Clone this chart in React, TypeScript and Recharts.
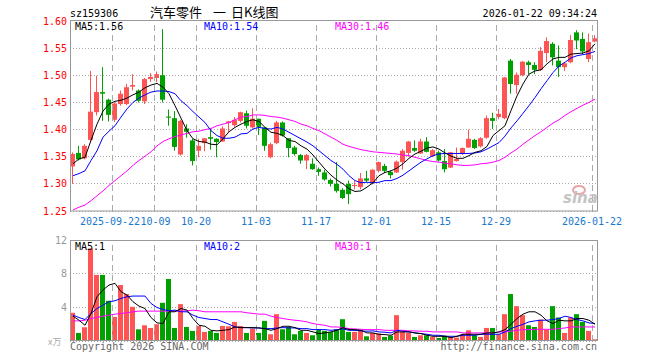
import React from 'react';
import { ComposedChart, Bar, Line, XAxis, YAxis, CartesianGrid, ReferenceLine } from 'recharts';

const dates = [
  '2025-09-11', '2025-09-12', '2025-09-15', '2025-09-16', '2025-09-17', '2025-09-18', '2025-09-19',
  '2025-09-22', '2025-09-23', '2025-09-24', '2025-09-25', '2025-09-26', '2025-09-29', '2025-09-30',
  '2025-10-09', '2025-10-10', '2025-10-13', '2025-10-14', '2025-10-15', '2025-10-16', '2025-10-17',
  '2025-10-20', '2025-10-21', '2025-10-22', '2025-10-23', '2025-10-24', '2025-10-27', '2025-10-28',
  '2025-10-29', '2025-10-30', '2025-10-31', '2025-11-03', '2025-11-04', '2025-11-05', '2025-11-06',
  '2025-11-07', '2025-11-10', '2025-11-11', '2025-11-12', '2025-11-13', '2025-11-14', '2025-11-17',
  '2025-11-18', '2025-11-19', '2025-11-20', '2025-11-21', '2025-11-24', '2025-11-25', '2025-11-26',
  '2025-11-27', '2025-11-28', '2025-12-01', '2025-12-02', '2025-12-03', '2025-12-04', '2025-12-05',
  '2025-12-08', '2025-12-09', '2025-12-10', '2025-12-11', '2025-12-12', '2025-12-15', '2025-12-16',
  '2025-12-17', '2025-12-18', '2025-12-19', '2025-12-22', '2025-12-23', '2025-12-24', '2025-12-25',
  '2025-12-26', '2025-12-29', '2025-12-30', '2025-12-31', '2026-01-05', '2026-01-06', '2026-01-07',
  '2026-01-08', '2026-01-09', '2026-01-12', '2026-01-13', '2026-01-14', '2026-01-15', '2026-01-16',
  '2026-01-19', '2026-01-20', '2026-01-21', '2026-01-22',
];

const opens = [
  1.332, 1.357, 1.347, 1.381, 1.432, 1.469, 1.455, 1.418, 1.447, 1.447, 1.479, 1.472, 1.452, 1.493, 1.495, 1.500,
  1.424, 1.421, 1.354, 1.402, 1.380, 1.361, 1.375, 1.386, 1.383, 1.378, 1.412, 1.408, 1.416, 1.430, 1.404, 1.420,
  1.404, 1.349, 1.375, 1.413, 1.384, 1.367, 1.353, 1.343, 1.337, 1.327, 1.321, 1.307, 1.300, 1.289, 1.300, 1.296,
  1.294, 1.310, 1.301, 1.324, 1.333, 1.322, 1.321, 1.340, 1.357, 1.366, 1.356, 1.378, 1.351, 1.358, 1.342, 1.330,
  1.342, 1.355, 1.367, 1.381, 1.369, 1.385, 1.421, 1.423, 1.421, 1.527, 1.482, 1.500, 1.524, 1.519, 1.510, 1.541,
  1.558, 1.527, 1.515, 1.524, 1.579, 1.567, 1.530, 1.562,
];
const closes = [
  1.355, 1.345, 1.370, 1.433, 1.469, 1.466, 1.427, 1.448, 1.466, 1.478, 1.482, 1.453, 1.493, 1.497, 1.502, 1.455,
  1.422, 1.368, 1.416, 1.396, 1.342, 1.370, 1.384, 1.383, 1.377, 1.402, 1.415, 1.418, 1.432, 1.407, 1.420, 1.404,
  1.370, 1.373, 1.413, 1.389, 1.366, 1.355, 1.343, 1.353, 1.327, 1.322, 1.308, 1.300, 1.287, 1.274, 1.281, 1.298,
  1.310, 1.306, 1.326, 1.340, 1.324, 1.316, 1.341, 1.361, 1.378, 1.361, 1.378, 1.359, 1.362, 1.343, 1.327, 1.358,
  1.346, 1.366, 1.383, 1.366, 1.384, 1.421, 1.416, 1.429, 1.496, 1.484, 1.501, 1.525, 1.519, 1.510, 1.545, 1.563,
  1.533, 1.515, 1.522, 1.565, 1.564, 1.544, 1.561, 1.568,
];
const highs = [
  1.358, 1.370, 1.373, 1.508, 1.499, 1.515, 1.457, 1.450, 1.472, 1.484, 1.502, 1.474, 1.495, 1.504, 1.507, 1.585,
  1.437, 1.434, 1.418, 1.410, 1.383, 1.383, 1.384, 1.401, 1.384, 1.406, 1.416, 1.423, 1.433, 1.435, 1.439, 1.420,
  1.404, 1.376, 1.416, 1.415, 1.384, 1.370, 1.355, 1.355, 1.347, 1.330, 1.326, 1.310, 1.340, 1.292, 1.306, 1.305,
  1.320, 1.324, 1.327, 1.341, 1.337, 1.324, 1.343, 1.364, 1.379, 1.380, 1.383, 1.386, 1.364, 1.361, 1.364, 1.359,
  1.367, 1.367, 1.400, 1.383, 1.386, 1.426, 1.431, 1.438, 1.497, 1.530, 1.505, 1.526, 1.527, 1.524, 1.552, 1.570,
  1.561, 1.555, 1.524, 1.574, 1.583, 1.579, 1.577, 1.574,
];
const lows = [
  1.300, 1.343, 1.345, 1.377, 1.426, 1.416, 1.415, 1.414, 1.444, 1.445, 1.472, 1.450, 1.447, 1.488, 1.487, 1.450,
  1.407, 1.361, 1.352, 1.385, 1.334, 1.349, 1.360, 1.363, 1.349, 1.377, 1.395, 1.405, 1.413, 1.402, 1.402, 1.390,
  1.361, 1.347, 1.373, 1.387, 1.349, 1.352, 1.337, 1.327, 1.326, 1.315, 1.306, 1.295, 1.284, 1.272, 1.263, 1.290,
  1.290, 1.303, 1.299, 1.321, 1.320, 1.310, 1.320, 1.326, 1.350, 1.359, 1.355, 1.358, 1.349, 1.341, 1.321, 1.329,
  1.341, 1.353, 1.366, 1.364, 1.367, 1.383, 1.401, 1.419, 1.419, 1.466, 1.466, 1.498, 1.502, 1.502, 1.508, 1.524,
  1.518, 1.497, 1.508, 1.522, 1.548, 1.539, 1.524, 1.561,
];

const ma5 = [
  1.337, 1.346, 1.349, 1.380, 1.410, 1.434, 1.447, 1.452, 1.454, 1.458, 1.464, 1.469, 1.477, 1.482, 1.485, 1.478,
  1.466, 1.444, 1.421, 1.398, 1.383, 1.378, 1.377, 1.373, 1.372, 1.383, 1.396, 1.404, 1.410, 1.415, 1.418, 1.415,
  1.404, 1.395, 1.393, 1.389, 1.380, 1.378, 1.370, 1.364, 1.353, 1.340, 1.327, 1.316, 1.307, 1.300, 1.291, 1.286,
  1.287, 1.294, 1.302, 1.315, 1.321, 1.324, 1.329, 1.337, 1.347, 1.355, 1.360, 1.366, 1.368, 1.364, 1.357, 1.351,
  1.347, 1.347, 1.352, 1.358, 1.361, 1.369, 1.389, 1.398, 1.407, 1.435, 1.462, 1.484, 1.502, 1.508, 1.510, 1.521,
  1.530, 1.533, 1.533, 1.539, 1.540, 1.541, 1.545, 1.558,
];
const ma10 = [
  1.315, 1.319, 1.324, 1.343, 1.361, 1.386, 1.397, 1.407, 1.423, 1.438, 1.450, 1.458, 1.464, 1.469, 1.471, 1.471,
  1.470, 1.466, 1.453, 1.444, 1.433, 1.423, 1.413, 1.398, 1.389, 1.384, 1.384, 1.386, 1.392, 1.393, 1.401, 1.404,
  1.402, 1.401, 1.404, 1.401, 1.395, 1.389, 1.383, 1.377, 1.370, 1.361, 1.352, 1.343, 1.336, 1.327, 1.315, 1.306,
  1.302, 1.303, 1.302, 1.303, 1.306, 1.306, 1.310, 1.316, 1.324, 1.332, 1.340, 1.346, 1.352, 1.355, 1.356, 1.356,
  1.356, 1.356, 1.356, 1.357, 1.359, 1.364, 1.370, 1.376, 1.388, 1.403, 1.416, 1.430, 1.444, 1.459, 1.475, 1.490,
  1.505, 1.517, 1.524, 1.532, 1.536, 1.538, 1.540, 1.544,
];
const ma30 = [
  1.252, 1.257, 1.261, 1.269, 1.278, 1.287, 1.297, 1.306, 1.315, 1.324, 1.334, 1.343, 1.351, 1.359, 1.370, 1.378,
  1.383, 1.387, 1.390, 1.393, 1.396, 1.397, 1.400, 1.402, 1.407, 1.410, 1.413, 1.418, 1.423, 1.424, 1.427, 1.427,
  1.426, 1.424, 1.423, 1.421, 1.418, 1.415, 1.410, 1.407, 1.402, 1.398, 1.392, 1.386, 1.380, 1.373, 1.369, 1.366,
  1.363, 1.361, 1.359, 1.358, 1.357, 1.356, 1.355, 1.353, 1.352, 1.349, 1.346, 1.343, 1.341, 1.340, 1.338, 1.337,
  1.335, 1.334, 1.334, 1.335, 1.337, 1.338, 1.340, 1.343, 1.349, 1.357, 1.364, 1.373, 1.381, 1.389, 1.396, 1.404,
  1.412, 1.418, 1.426, 1.433, 1.439, 1.445, 1.450, 1.456,
];

// volume, 万
const vols = [
  3.35, 0.96, 1.63, 11.0, 7.85, 7.85, 4.78, 2.87, 6.65, 5.58, 4.06, 1.39, 1.87, 1.55, 1.99, 4.54,
  7.37, 1.55, 4.38, 1.67, 1.20, 1.79, 1.08, 1.20, 0.96, 1.79, 1.75, 2.27, 1.79, 0.96, 1.47, 0.96,
  2.39, 0.80, 3.19, 1.39, 1.67, 0.80, 1.20, 0.96, 0.68, 1.39, 1.20, 1.08, 1.39, 2.59, 1.08, 1.08,
  1.27, 0.56, 0.96, 0.88, 0.48, 0.64, 3.07, 1.08, 0.96, 0.48, 0.68, 0.68, 0.48, 0.36, 0.64, 0.48,
  0.40, 0.80, 1.27, 0.68, 0.48, 1.55, 1.55, 0.80, 3.19, 5.58, 4.14, 3.07, 1.87, 1.67, 2.55, 1.35,
  4.14, 2.79, 0.96, 2.79, 3.19, 2.27, 1.20, 0.20,
];
const vma5 = [
  2.95, 2.47, 1.87, 3.27, 5.26, 6.06, 6.65, 6.85, 5.86, 5.46, 4.66, 4.14, 3.86, 2.79, 2.15, 2.07,
  3.47, 3.47, 3.86, 3.67, 2.67, 1.87, 1.75, 1.27, 1.20, 1.27, 1.35, 1.67, 1.59, 1.59, 1.59, 1.55,
  1.47, 1.27, 1.47, 1.75, 1.75, 1.59, 1.27, 1.27, 1.08, 0.88, 0.96, 1.08, 1.27, 1.59, 1.35, 1.35,
  1.27, 0.96, 0.96, 0.80, 0.76, 0.68, 1.08, 1.08, 1.08, 0.96, 0.88, 0.68, 0.56, 0.56, 0.56, 0.40,
  0.56, 0.80, 0.80, 0.80, 0.80, 0.96, 0.96, 1.08, 1.35, 1.99, 2.67, 3.19, 3.47, 3.47, 3.07, 2.39,
  2.07, 2.47, 2.39, 2.39, 2.67, 2.67, 2.47, 1.99,
];
const vma10 = [
  3.07, 2.79, 2.55, 3.27, 3.86, 4.26, 4.66, 4.78, 5.06, 5.26, 5.34, 5.34, 5.34, 4.46, 3.98, 3.75,
  3.59, 3.67, 3.47, 3.47, 3.07, 2.79, 2.67, 2.55, 2.55, 2.27, 1.99, 1.67, 1.59, 1.59, 1.55, 1.55,
  1.47, 1.47, 1.55, 1.59, 1.55, 1.55, 1.47, 1.47, 1.35, 1.35, 1.35, 1.27, 1.35, 1.43, 1.27, 1.27,
  1.20, 1.16, 1.20, 1.08, 1.04, 0.96, 1.27, 1.16, 1.08, 0.96, 0.88, 0.80, 0.68, 0.68, 0.56, 0.56,
  0.56, 0.68, 0.68, 0.68, 0.80, 0.80, 0.80, 0.80, 1.08, 1.47, 1.75, 1.99, 2.27, 2.39, 2.47, 2.47,
  2.55, 2.67, 2.95, 2.79, 2.55, 2.39, 2.15, 2.07,
];
const vma30 = [
  2.39, 2.39, 2.47, 2.67, 2.79, 2.95, 3.07, 3.19, 3.27, 3.35, 3.47, 3.55, 3.55, 3.55, 3.55, 3.55,
  3.55, 3.55, 3.55, 3.59, 3.67, 3.59, 3.47, 3.47, 3.47, 3.47, 3.47, 3.47, 3.47, 3.35, 3.27, 3.19,
  3.19, 2.95, 2.79, 2.67, 2.55, 2.47, 2.39, 2.27, 2.07, 1.95, 1.87, 1.67, 1.67, 1.59, 1.47, 1.43,
  1.39, 1.35, 1.35, 1.35, 1.27, 1.27, 1.27, 1.27, 1.20, 1.20, 1.16, 1.16, 1.08, 1.08, 1.08, 1.08,
  1.08, 0.96, 0.96, 0.96, 0.96, 0.96, 0.96, 1.08, 1.08, 1.16, 1.27, 1.35, 1.35, 1.39, 1.39, 1.39,
  1.39, 1.47, 1.55, 1.67, 1.67, 1.67, 1.67, 1.67,
];

const tickDates = [
  '2025-09-22', '2025-10-09', '2025-10-20', '2025-11-03', '2025-11-17',
  '2025-12-01', '2025-12-15', '2025-12-29', '2026-01-22',
];
const priceTicks = [1.25, 1.3, 1.35, 1.4, 1.45, 1.5, 1.55, 1.6];
const volTicks = [4, 8, 12];

const RED = '#ff5454';
const GREEN = '#00a000';
const GRID = '#aaaaaa';
const MONO = '"DejaVu Sans Mono", "Liberation Mono", monospace';
const CJK = '"Noto Sans CJK SC", sans-serif';

const rows = dates.map((d, i) => ({
  i,
  d,
  open: opens[i],
  close: closes[i],
  high: highs[i],
  low: lows[i],
  range: [lows[i], highs[i]],
  vol: vols[i],
  ma5: ma5[i],
  ma10: ma10[i],
  ma30: ma30[i],
  vma5: vma5[i],
  vma10: vma10[i],
  vma30: vma30[i],
}));

const xDomain = [-0.5, rows.length - 0.5];
// gridlines sit on the left edge of each tick day's slot
const gridX = tickDates.map((t) => dates.indexOf(t) - 0.5);

const tickText = (k: number) => {
  const t = tickDates[k] || '';
  return k === 0 || k === tickDates.length - 1 ? t : t.slice(5);
};

const upColor = (p: any) => (p.close >= p.open ? RED : GREEN);

const Candle = (props: any) => {
  const { x, y, width, height } = props;
  const p = props.payload || props;
  const top = Math.min(y, y + height);
  const h = Math.abs(height);
  const span = p.high - p.low || 1e-6;
  const py = (v: number) => top + ((p.high - v) / span) * h;
  const color = upColor(p);
  const left = Math.round(x + width / 2 - 2.5);
  const cx = left + 2.5;
  const bTop = py(Math.max(p.open, p.close));
  const bBot = py(Math.min(p.open, p.close));
  return (
    <g>
      <line x1={cx} x2={cx} y1={top} y2={top + h} stroke={color} strokeWidth={1} />
      <rect x={left} y={bTop} width={5} height={Math.max(1, bBot - bTop)} fill={color} />
    </g>
  );
};

const VolBar = (props: any) => {
  const { x, y, width, height } = props;
  const p = props.payload || props;
  return <rect x={Math.round(x + width / 2 - 2.5)} y={y} width={5} height={Math.max(0, height)} fill={upColor(p)} />;
};

const XTick = (props: any) => {
  const { x, y, payload } = props;
  const k = gridX.indexOf(payload.value);
  // first two labels butt against each other, as in the source
  const nudge = k === 0 ? -2 : k === 1 ? 1.5 : 0;
  return (
    <text x={x + nudge} y={y + 13.5} textAnchor="middle" fill="#1a78cc" fontSize={10} fontFamily={MONO}>
      {tickText(k)}
    </text>
  );
};

const vGrid = gridX.map((v) => (
  <ReferenceLine key={v} x={v} stroke={GRID} strokeDasharray="6 4" shapeRendering="crispEdges" />
));

const App: React.FC = () => {
  return (
    <div style={{ position: 'absolute', left: 0, top: 0, width: 660, height: 360, background: '#fff' }}>
      <div style={{ position: 'absolute', left: 0, top: 0 }}>
        <ComposedChart width={660} height={240} data={rows} margin={{ top: 20, right: 62, bottom: 0, left: 0 }}>
          <CartesianGrid vertical={false} stroke={GRID} strokeDasharray="1 2" shapeRendering="crispEdges" />
          {vGrid}
          <XAxis
            type="number"
            dataKey="i"
            domain={xDomain}
            ticks={gridX}
            interval={0}
            height={29}
            tickSize={0}
            tickMargin={0}
            axisLine={false}
            tickLine={false}
            tick={<XTick />}
            allowDataOverflow
          />
          <YAxis
            type="number"
            domain={[1.25, 1.6018]}
            ticks={priceTicks}
            width={70}
            tickSize={0}
            tickMargin={3}
            axisLine={false}
            tickLine={false}
            tickFormatter={(v: number) => v.toFixed(2)}
            tick={{ fill: '#ff0000', fontSize: 10, fontFamily: MONO }}
            allowDataOverflow
          />
          <Bar dataKey="range" barSize={5} shape={<Candle />} isAnimationActive={false} />
          <Line dataKey="ma30" stroke="#ff00ff" strokeWidth={1} dot={false} activeDot={false} isAnimationActive={false} />
          <Line dataKey="ma10" stroke="#0000ff" strokeWidth={1} dot={false} activeDot={false} isAnimationActive={false} />
          <Line dataKey="ma5" stroke="#000000" strokeWidth={1} dot={false} activeDot={false} isAnimationActive={false} />
        </ComposedChart>
      </div>
      <div style={{ position: 'absolute', left: 0, top: 230 }}>
        <ComposedChart width={660} height={130} data={rows} margin={{ top: 10, right: 62, bottom: 19, left: 0 }}>
          <CartesianGrid vertical={false} stroke={GRID} strokeDasharray="1 2" shapeRendering="crispEdges" />
          {vGrid}
          <XAxis type="number" dataKey="i" domain={xDomain} hide allowDataOverflow />
          <YAxis
            type="number"
            domain={[0, 12]}
            ticks={volTicks}
            width={70}
            tickSize={0}
            tickMargin={3}
            axisLine={false}
            tickLine={false}
            tick={{ fill: '#999999', fontSize: 10, fontFamily: MONO }}
            allowDataOverflow
          />
          <Bar dataKey="vol" barSize={5} shape={<VolBar />} isAnimationActive={false} />
          <Line dataKey="vma30" stroke="#ff00ff" strokeWidth={1} dot={false} activeDot={false} isAnimationActive={false} />
          <Line dataKey="vma10" stroke="#0000ff" strokeWidth={1} dot={false} activeDot={false} isAnimationActive={false} />
          <Line dataKey="vma5" stroke="#000000" strokeWidth={1} dot={false} activeDot={false} isAnimationActive={false} />
        </ComposedChart>
      </div>
      <svg width={660} height={360} style={{ position: 'absolute', left: 0, top: 0, pointerEvents: 'none' }}>
        <rect x={70.5} y={20.5} width={527} height={190.5} fill="none" stroke="#999" />
        <rect x={70.5} y={240.5} width={527} height={100} fill="none" stroke="#999" />
        <g fontFamily={MONO} fontSize={10}>
          <text x={70} y={17} fill="#000">sz159306</text>
          <text x={597} y={17} fill="#000" textAnchor="end">2026-01-22 09:34:24</text>
          <text x={75} y={30} fill="#000">MA5:1.56</text>
          <text x={204} y={30} fill="#0000ff">MA10:1.54</text>
          <text x={335} y={30} fill="#ff00ff">MA30:1.46</text>
          <text x={75} y={249.5} fill="#000">MA5:1</text>
          <text x={204} y={249.5} fill="#0000ff">MA10:2</text>
          <text x={335} y={249.5} fill="#ff00ff">MA30:1</text>
          <text x={70} y={350} fill="#666">Copyright 2026 SINA.COM</text>
          <text x={597} y={350} fill="#666" textAnchor="end">http://finance.sina.com.cn</text>
        </g>
        <g fontFamily={CJK} fontSize={13} fill="#000">
          <text x={150} y={16.5}>汽车零件</text>
          <text x={213} y={16.5}>一</text>
          <text x={231} y={16.5}>日K线图</text>
        </g>
        <text x={48} y={345} fontFamily={CJK} fontSize={9} fill="#aaa">x万</text>
        <ellipse cx={579} cy={190} rx={6} ry={4} fill="none" stroke="#eaa4a4" strokeWidth={2} />
        <text x={563} y={203} fontFamily='"DejaVu Sans", sans-serif' fontStyle="italic" fontWeight="bold" fontSize={15} fill="#c4c4c4">
          sina
        </text>
      </svg>
    </div>
  );
};

export default App;
